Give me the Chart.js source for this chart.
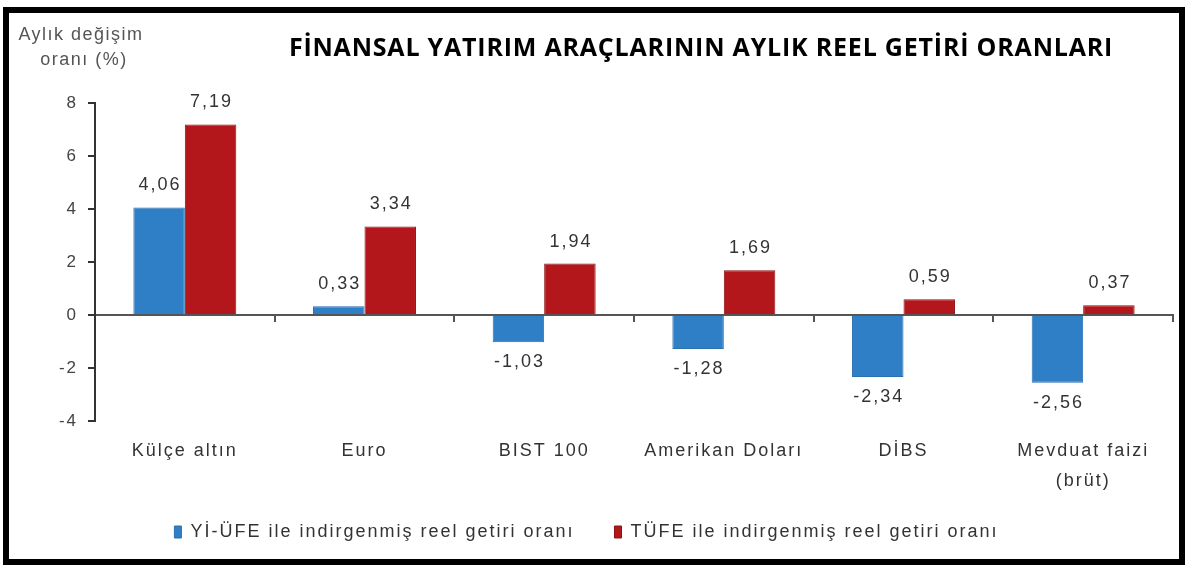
<!DOCTYPE html>
<html>
<head>
<meta charset="utf-8"/>
<title>Finansal yatırım araçlarının aylık reel getiri oranları</title>
<script src="https://cdn.jsdelivr.net/npm/chart.js@4.4.1/dist/chart.umd.min.js"></script>
<style>
  html, body { margin: 0; padding: 0; background: #fff; }
  #wrap { width: 1200px; height: 574px; position: relative; }
</style>
</head>
<body>
<div id="wrap"><canvas id="chart" width="1200" height="574"></canvas></div>
<script>
// veriler
var kategoriler = ['Külçe altın', 'Euro', 'BIST 100', 'Amerikan Doları', 'DİBS', ['Mevduat faizi', '(brüt)']];
var yiUfe = [4.06, 0.33, -1.03, -1.28, -2.34, -2.56];
var tufe = [7.19, 3.34, 1.94, 1.69, 0.59, 0.37];
var seriAdlari = ['Yİ-ÜFE ile indirgenmiş reel getiri oranı', 'TÜFE ile indirgenmiş reel getiri oranı'];
var yMin = -4, yMax = 8, yStep = 2;
var baslik = 'FİNANSAL YATIRIM ARAÇLARININ AYLIK REEL GETİRİ ORANLARI';
var eksenBasligi = ['Aylık değişim', 'oranı (%)'];

// the source image is stretched sideways, so all text gets some letter spacing
var extras = {
  id: 'extras',
  beforeUpdate: function (chart) {
    chart.ctx.letterSpacing = '2px';
  },
  afterDraw: function (chart) {
    var ctx = chart.ctx;
    ctx.save();
    // bar value labels
    ctx.font = '18px Arial, "Liberation Sans"';
    ctx.letterSpacing = '2px';
    ctx.fillStyle = '#333';
    ctx.textAlign = 'center';
    chart.data.datasets.forEach(function (ds, i) {
      var meta = chart.getDatasetMeta(i);
      meta.data.forEach(function (bar, j) {
        var v = ds.data[j];
        var txt = v.toFixed(2).replace('.', ',');
        if (v >= 0) {
          ctx.textBaseline = 'bottom';
          ctx.fillText(txt, bar.x + 1, bar.y - 13);
        } else {
          ctx.textBaseline = 'top';
          ctx.fillText(txt, bar.x + 1, bar.y + 11);
        }
      });
    });
    // y axis title
    ctx.font = '18px Arial, "Liberation Sans"';
    ctx.letterSpacing = '1.5px';
    ctx.fillStyle = '#555';
    ctx.textBaseline = 'middle';
    ctx.fillText(eksenBasligi[0], 81, 35);
    ctx.fillText(eksenBasligi[1], 84, 60);
    // main title
    ctx.font = 'bold 25px "Open Sans", Arial';
    ctx.letterSpacing = '0.8px';
    ctx.fillStyle = '#000';
    ctx.fillText(baslik, 701, 49, 826);
    // frame
    ctx.strokeStyle = '#000';
    ctx.lineWidth = 6;
    ctx.strokeRect(6, 10, 1176, 552);
    ctx.restore();
  }
};

new Chart(document.getElementById('chart'), {
  type: 'bar',
  data: {
    labels: kategoriler,
    datasets: [
      {
        label: seriAdlari[0], data: yiUfe, xAxisID: 'x',
        backgroundColor: '#2f7fc7', borderColor: '#2a6fae', borderWidth: 1,
        categoryPercentage: 0.573, barPercentage: 1
      },
      {
        label: seriAdlari[1], data: tufe, xAxisID: 'x',
        backgroundColor: '#b3171b', borderColor: '#8e1215', borderWidth: 1,
        categoryPercentage: 0.573, barPercentage: 1
      }
    ]
  },
  options: {
    responsive: false,
    animation: false,
    layout: { padding: { left: 0, right: 27, top: 103, bottom: 23 } },
    plugins: {
      title: { display: false },
      tooltip: { enabled: false },
      legend: {
        position: 'bottom',
        labels: {
          boxWidth: 7, boxHeight: 12, padding: 12,
          color: '#333', font: { family: 'Arial', size: 18 },
          generateLabels: function (chart) {
            var items = Chart.defaults.plugins.legend.labels.generateLabels(chart);
            // wider gap between the two entries
            items[0].text += '    ';
            return items;
          }
        }
      }
    },
    scales: {
      x: {
        type: 'category', position: { y: 0 }, offset: true,
        grid: { offset: true, drawOnChartArea: false, drawTicks: true, tickLength: 6, color: '#555', lineWidth: 2 },
        border: { color: '#555', width: 2 },
        ticks: { display: false }
      },
      x2: {
        type: 'category', position: 'bottom', offset: true,
        grid: { display: false },
        border: { display: false },
        ticks: { color: '#333', padding: 7, font: { family: 'Arial', size: 18, lineHeight: 1.65 }, maxRotation: 0, autoSkip: false },
        afterFit: function (s) { s.height = 90; }
      },
      y: {
        min: yMin, max: yMax,
        ticks: { stepSize: yStep, color: '#444', padding: 10, font: { family: 'Arial', size: 17 } },
        grid: { drawOnChartArea: false, drawTicks: true, tickLength: 7, color: '#333', lineWidth: 2 },
        border: { color: '#333', width: 2 },
        afterFit: function (s) { s.width = 95; }
      }
    }
  },
  plugins: [extras]
});
</script>
</body>
</html>
